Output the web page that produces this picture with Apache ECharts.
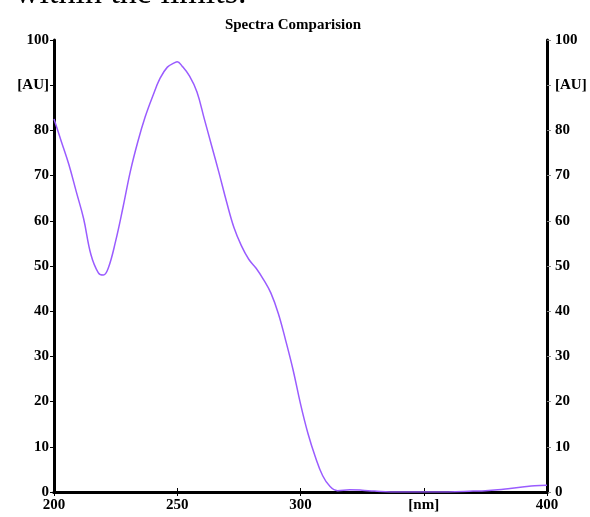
<!DOCTYPE html>
<html>
<head>
<meta charset="utf-8">
<script src="https://cdn.jsdelivr.net/npm/echarts@6/dist/echarts.min.js"></script>
<style>html,body{margin:0;padding:0;background:#fff;}#c{width:590px;height:517px;}</style>
</head>
<body>
<div id="c"></div>
<script>
const chartTitle = 'Spectra Comparision';
const clippedText = 'within the limits.';
const wavelengths = [200,203,206,209,212,215,218,220,222,225,228,231,234,237,240,243,246,249,250,252,255,258,261,264,267,270,273,276,279,282,285,288,291,294,297,300,303,306,309,312,315,320,325,330,340,350,360,370,375,380,385,390,395,400];
const absorbance = [82.5,77.5,72.5,66.5,60.5,52.5,48.5,48.0,49.5,55.5,63,71,77.5,83,87.5,91.5,94,95,95.2,94.2,92,88.5,82.5,76.5,70.5,64.2,58.5,54.5,51.5,49.5,47,44,39.5,33.5,27,19.5,13,7.8,3.6,1.2,0.3,0.5,0.4,0.2,0,0,0,0.2,0.3,0.5,0.8,1.1,1.4,1.5];
const xUnitTick = 350, xUnitLabel = '[nm]';
const yUnitTick = 90, yUnitLabel = '[AU]';

const font = {fontFamily:'Liberation Serif', fontWeight:'bold', fontSize:15, color:'#000'};
const chart = echarts.init(document.getElementById('c'));
chart.setOption({
  animation:false,
  title:{text:chartTitle, left:288, textAlign:'center', top:13,
    textStyle:{fontFamily:'Liberation Serif', fontWeight:'bold', fontSize:15, color:'#000'}},
  graphic:{elements:[{type:'text', z:100, x:15, y:-23,
    style:{text:clippedText, fontSize:34, fontFamily:'Liberation Serif', fill:'#000'}}]},
  grid:{left:54, right:43, top:40, bottom:25},
  xAxis:[
    {type:'value', min:200, max:400, interval:50, position:'bottom',
     axisLine:{lineStyle:{color:'#000', width:3}},
     axisTick:{length:4, lineStyle:{color:'#000', width:1}},
     splitLine:{show:false},
     axisLabel:Object.assign({margin:6, formatter:v=> v===xUnitTick? xUnitLabel : String(v)}, font)},
    {type:'value', min:200, max:400, interval:50, position:'top',
     axisLine:{lineStyle:{color:'#000', width:3}},
     axisTick:{length:4, lineStyle:{color:'#000', width:1}},
     splitLine:{show:false}, axisLabel:{show:false}}
  ],
  yAxis:[
    {type:'value', min:0, max:100, interval:10, position:'left',
     axisLine:{show:true, lineStyle:{color:'#000', width:3}},
     axisTick:{show:true, length:4, lineStyle:{color:'#000', width:1}},
     splitLine:{show:false},
     axisLabel:Object.assign({margin:5, formatter:v=> v===yUnitTick? yUnitLabel : String(v)}, font)},
    {type:'value', min:0, max:100, interval:10, position:'right',
     axisLine:{show:true, lineStyle:{color:'#000', width:3}},
     axisTick:{show:true, length:4, lineStyle:{color:'#888', width:1}},
     splitLine:{show:false},
     axisLabel:Object.assign({margin:8, formatter:v=> v===yUnitTick? yUnitLabel : String(v)}, font)}
  ],
  series:[{type:'line', xAxisIndex:0, yAxisIndex:0, smooth:0.4, showSymbol:false,
    lineStyle:{color:'#9a5cff', width:1.5},
    data: wavelengths.map((w,i)=>[w, absorbance[i]])}]
});
</script>
</body>
</html>
